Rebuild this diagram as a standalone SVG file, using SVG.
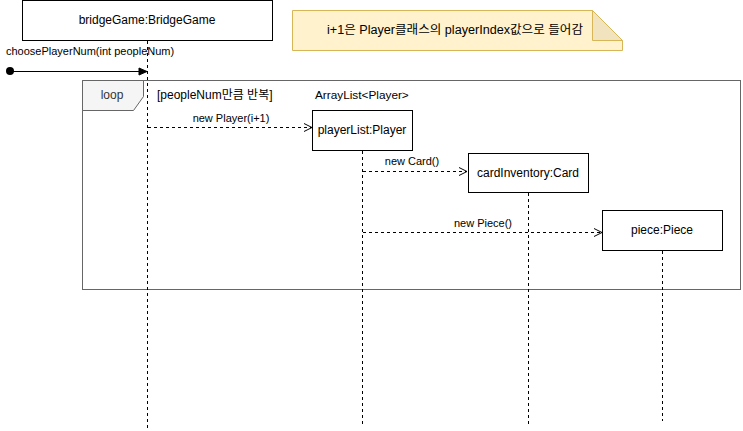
<svg xmlns="http://www.w3.org/2000/svg" width="743" height="431" viewBox="0 0 743 431">
<style>
text{font-family:"Liberation Sans","Noto Sans CJK KR",Arial,sans-serif;fill:#000}
.lbl{font-size:12px;text-anchor:middle}
.msg{font-size:11px;text-anchor:middle}
.box{fill:#fff;stroke:#000;stroke-width:1}
.life{stroke:#000;stroke-width:1;stroke-dasharray:3 3;fill:none}
.dash{stroke:#000;stroke-width:1;stroke-dasharray:3 3;fill:none}
</style>
<defs>
<marker id="open" markerWidth="10" markerHeight="10" refX="9" refY="5" orient="auto" markerUnits="userSpaceOnUse">
<path d="M1,1 L9,5 L1,9" fill="none" stroke="#000" stroke-width="1"/>
</marker>
<marker id="block" markerWidth="10" markerHeight="10" refX="9" refY="5" orient="auto" markerUnits="userSpaceOnUse">
<path d="M1,1.5 L9,5 L1,8.5 Z" fill="#000" stroke="#000" stroke-width="1"/>
</marker>
</defs>
<rect width="743" height="431" fill="#fff"/>

<g id="loop">
<rect x="82.5" y="80.5" width="658" height="209" fill="none" stroke="#666" stroke-width="1"/>
<path d="M82.5,80.5 H143.5 V96.5 L133.5,110.5 H82.5 Z" fill="#f5f5f5" stroke="#666" stroke-width="1"/>
<text x="112" y="99" class="lbl" style="fill:#333">loop</text>
<text x="157" y="99" style="font-size:12px">[peopleNum만큼 반복]</text>
<text x="315" y="99" style="font-size:11.8px">ArrayList&lt;Player&gt;</text>
</g>

<g id="note">
<path d="M292.5,10.5 H592.5 L622.5,40.5 V50.5 H292.5 Z" fill="#fff2cc" stroke="#d6b656" stroke-width="1"/>
<path d="M592.5,10.5 V40.5 H622.5 Z" fill="#f0e3bd" stroke="#d6b656" stroke-width="1"/>
<text x="455" y="34" class="lbl" textLength="256" lengthAdjust="spacingAndGlyphs">i+1은 Player클래스의 playerIndex값으로 들어감</text>
</g>

<g id="bridgeGame">
<rect x="22.5" y="0.5" width="250" height="40" class="box"/>
<text x="147" y="24" class="lbl">bridgeGame:BridgeGame</text>
<line x1="147.5" y1="41" x2="147.5" y2="430" class="life"/>
</g>

<g id="playerList">
<rect x="312.5" y="110.5" width="100" height="40" class="box"/>
<text x="362" y="134" class="lbl">playerList:Player</text>
<line x1="362.5" y1="151" x2="362.5" y2="424" class="life"/>
</g>

<g id="cardInventory">
<rect x="468.5" y="153.5" width="120" height="39" class="box"/>
<text x="528" y="177" class="lbl">cardInventory:Card</text>
<line x1="528.5" y1="193" x2="528.5" y2="424" class="life"/>
</g>

<g id="piece">
<rect x="602.5" y="210.5" width="120" height="40" class="box"/>
<text x="662" y="234" class="lbl">piece:Piece</text>
<line x1="662.5" y1="251" x2="662.5" y2="421" class="life"/>
</g>

<g id="connectors">
<circle cx="10" cy="71" r="4" fill="#000"/>
<line x1="10" y1="71.5" x2="147" y2="71.5" stroke="#000" stroke-width="1" marker-end="url(#block)"/>
<text x="6" y="55" style="font-size:11px">choosePlayerNum(int peopleNum)</text>

<line x1="148" y1="127.5" x2="312" y2="127.5" class="dash" marker-end="url(#open)"/>
<text x="231" y="122" class="msg">new Player(i+1)</text>

<line x1="363" y1="171.5" x2="467" y2="171.5" class="dash" marker-end="url(#open)"/>
<text x="412" y="165" class="msg">new Card()</text>

<line x1="363" y1="232.5" x2="602" y2="232.5" class="dash" marker-end="url(#open)"/>
<text x="483" y="227" class="msg">new Piece()</text>
</g>
</svg>
